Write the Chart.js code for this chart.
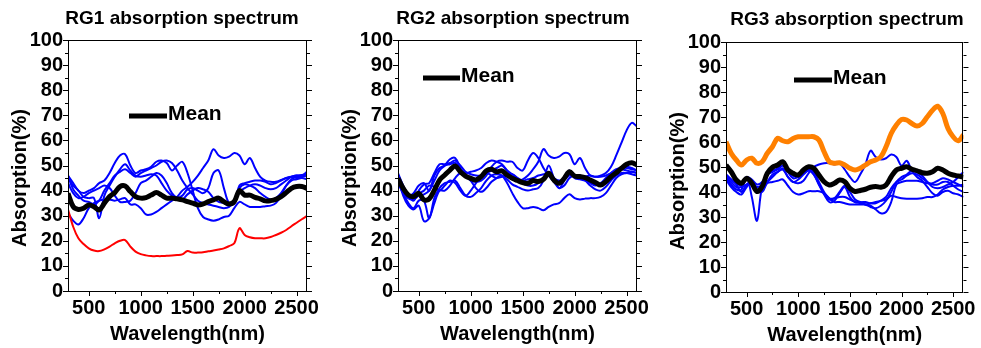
<!DOCTYPE html>
<html>
<head>
<meta charset="utf-8">
<script src="https://cdn.jsdelivr.net/npm/chart.js@4.4.1/dist/chart.umd.min.js"></script>
<style>
  html, body { margin: 0; padding: 0; background: #fff; }
  #wrap { position: relative; width: 981px; height: 348px; overflow: hidden; }
  .panel { position: absolute; top: 0; }
  .panel canvas { display: block; }
</style>
</head>
<body>
<div id="wrap">
  <div class="panel" style="left:0px"><canvas id="rg1" width="327" height="348"></canvas></div>
  <div class="panel" style="left:330px"><canvas id="rg2" width="327" height="348"></canvas></div>
  <div class="panel" style="left:655px"><canvas id="rg3" width="326" height="348"></canvas></div>
</div>
<script>
// wavelength samples (nm), shared by every curve
const wavelengths = [300, 350, 400, 450, 500, 550, 600, 650, 700, 750, 800, 850, 900, 950, 1000, 1050, 1100, 1150, 1200, 1250,
  1300, 1350, 1400, 1450, 1500, 1550, 1600, 1650, 1700, 1750, 1800, 1850, 1900, 1950, 2000, 2050, 2100, 2150, 2200, 2250,
  2300, 2350, 2400, 2450, 2500, 2550, 2600];

const xTicks = [500, 1000, 1500, 2000, 2500];

// RG1
const rg1Mean = [38.9, 33.6, 32.5, 33.0, 34.3, 33.6, 32.3, 35.0, 37.6, 39.2, 41.6, 41.8, 39.6, 37.6, 37.0, 37.2, 38.2, 39.2, 38.2, 37.0,
  37.0, 36.7, 36.3, 35.6, 35.0, 34.3, 34.7, 35.6, 36.3, 37.0, 35.6, 34.7, 35.6, 40.0, 38.2, 38.2, 37.3, 36.7, 35.9, 36.0,
  36.5, 37.6, 39.2, 40.9, 41.6, 41.6, 40.9];
const rg1Red = [32.5, 25.6, 21.0, 18.7, 17.0, 16.1, 15.9, 16.6, 17.7, 19.0, 20.0, 20.3, 17.7, 15.7, 14.7, 14.2, 13.9, 13.9, 13.9, 14.0,
  14.1, 14.3, 14.6, 15.9, 15.3, 15.3, 15.4, 15.8, 16.1, 16.5, 17.0, 17.9, 19.0, 25.0, 22.3, 21.4, 21.0, 21.0, 21.0, 21.5,
  22.3, 23.2, 24.3, 25.8, 27.2, 28.6, 29.9];
const rg1Blue1 = [46, 43, 40, 39, 40, 41, 43, 44, 47, 51, 54, 54.5, 50, 47, 48, 48.5, 49.5, 51.5, 52, 51,
  48, 50, 51.5, 47, 40, 33, 29.5, 28.5, 28, 28.5, 29.5, 30, 33, 35.5, 34.5, 33.5, 33.5, 33.5, 33.8, 34,
  35, 38, 42, 44.5, 45.5, 45.5, 46];
const rg1Blue2 = [31, 28, 26.5, 29, 33, 35, 36, 36.5, 36.5, 36, 36.5, 37, 34.5, 34.5, 33, 30.5, 30.5, 31.5, 33, 34.5,
  36, 37.5, 40, 41.5, 43.5, 46, 49, 52, 56.5, 54, 53, 53.5, 55, 54, 50.5, 53, 49, 45.5, 44, 43.5,
  43.5, 44.2, 45, 45.5, 46, 46.2, 46.5];
const rg1Blue3 = [45, 42, 40, 37.5, 37, 37, 29, 38, 42, 45.5, 48.5, 50.5, 48, 46, 45.5, 46, 46.5, 46, 43, 40,
  38, 37, 38, 40.5, 41, 40, 39, 41, 47, 48, 41, 35, 35.5, 42, 43, 43.5, 44, 44, 43.5, 42.5,
  43, 44, 45, 45.5, 45, 45.5, 47];
const rg1Blue4 = [46, 40.5, 38, 36, 35.5, 34.5, 36, 40, 43, 46, 47.5, 48.5, 47, 45.5, 47, 48, 49, 50, 51.5, 52,
  51, 48, 44, 41, 38.5, 36, 35, 34.5, 34, 33.5, 33, 33.5, 36, 41, 42.5, 42, 41, 39, 37.5, 36.5,
  37, 39, 42, 44, 44.5, 45, 44.5];
const rg1Blue5 = [43, 39, 37, 37.5, 39, 40, 41, 42, 41, 38, 35.5, 35.5, 36, 39, 43, 44, 45.5, 47, 46, 43,
  39, 37, 36.5, 38.5, 40, 41, 40.5, 39.5, 37, 35.5, 35, 34, 35, 39.5, 41, 42, 42.5, 42, 41, 40.5,
  41, 42.5, 44, 45.5, 46, 46, 47.5];

// RG2
const rg2Mean = [44.9, 40.9, 38.2, 37.6, 38.9, 36.3, 36.7, 40.2, 44.2, 46.2, 48.2, 49.8, 47.5, 45.8, 44.9, 44.2, 45.6, 47.9, 48.5, 47.5,
  47.9, 46.2, 44.9, 44.0, 43.2, 42.9, 44.0, 43.6, 44.5, 46.9, 44.2, 42.9, 44.9, 47.5, 45.8, 45.6, 45.2, 44.2, 43.2, 42.2,
  43.6, 45.6, 47.1, 48.9, 50.5, 51.1, 50.2];
const rg2Blue1 = [47, 42, 38, 36, 40, 42.5, 43, 47, 50.5, 50.5, 51, 52, 50, 47.5, 46.5, 46, 46, 47, 48, 49,
  50, 48, 46.5, 45, 44, 44.5, 45, 46, 46.5, 47, 45, 44, 44.5, 46, 45.5, 45, 45.5, 46, 45.5, 46,
  47, 49.5, 54, 59, 64, 67, 65.5];
const rg2Blue2 = [45, 40, 37, 36.5, 38, 38.5, 40, 44, 48, 50, 52.5, 53, 49, 46, 44, 43.5, 44, 46, 49.5, 51.5,
  52, 51.5, 51.5, 49, 48, 52, 55, 53, 49, 46, 43.5, 41, 42, 45, 46, 45.5, 44.5, 43.5, 42.5, 42,
  43, 45.5, 47.5, 49, 49.5, 49, 48];
const rg2Blue3 = [46, 41, 38, 39, 42, 43, 40, 46, 49, 50, 50.5, 51, 48.5, 47, 47.5, 48, 49, 51, 52, 51.5,
  50.5, 48, 45.5, 44, 44.5, 46, 48.5, 51.5, 56.5, 54, 53, 53.5, 55, 54.5, 50.5, 53, 49, 46, 45.5, 45.5,
  46, 47, 48, 48.5, 48, 47.5, 47];
const rg2Blue4 = [44, 39, 35, 33, 36, 36, 29, 37, 41, 43, 43.5, 44, 41, 38, 37.5, 39, 41, 44, 46, 46.5,
  46, 43, 39, 35.5, 33, 33, 33.5, 33, 32.2, 33.5, 34.5, 35, 37, 38.5, 37, 36.5, 36.8, 37, 37, 37.5,
  39, 42, 45, 46.5, 47, 47.5, 47];
const rg2Blue5 = [45, 38, 34, 32.5, 34, 27.8, 29, 35, 40, 40, 42, 45, 47, 46.5, 44, 41, 39.5, 41, 43.5, 45,
  46, 44.5, 42.5, 41.5, 40.5, 40, 40.5, 41, 44, 50, 45, 41, 44, 48, 46, 45, 44, 42, 40.5, 40,
  41.5, 44, 46, 47, 47, 46.5, 46];
const rg2Blue6 = [43, 39, 37, 38, 39, 40, 42, 41.5, 40, 42, 44, 43, 40, 38, 40, 43, 45.5, 47, 46, 45,
  45.5, 46, 46.5, 45, 43, 42, 42, 43, 45, 46, 44, 43, 45, 47, 45, 44.5, 44, 43, 42, 43,
  45, 47, 48.5, 49, 49, 48.5, 48];

// RG3
const rg3Mean = [50.8, 48.1, 44.8, 43.5, 45.5, 43.5, 40.2, 42.2, 47.5, 49.9, 50.8, 52.1, 48.8, 47.5, 46.8, 48.8, 50.1, 49.5, 46.8, 44.1,
  42.8, 43.5, 44.8, 44.1, 41.5, 40.2, 40.6, 41.1, 41.9, 42.2, 41.9, 42.8, 46.1, 48.8, 49.5, 50.1, 49.1, 48.5, 47.7, 47.5,
  48.1, 49.5, 48.8, 47.5, 46.8, 46.4, 45.9];
const rg3Orange = [60.1, 55.5, 52.8, 50.8, 52.8, 53.5, 51.5, 52.1, 55.5, 58.1, 61.5, 60.5, 60.1, 61.4, 62.1, 62.1, 62.1, 62.1, 60.8, 56.1,
  52.1, 51.5, 51.7, 50.8, 49.5, 48.8, 49.5, 50.8, 52.1, 52.8, 54.1, 58.1, 63.4, 66.8, 69.0, 68.8, 67.4, 66.4, 67.4, 70.1,
  72.7, 74.3, 71.4, 65.4, 62.1, 60.5, 62.8];
const rg3Blue1 = [47, 45, 43, 40, 43, 44, 41, 40, 44, 47, 48, 49, 46, 44, 43.5, 44.5, 47.5, 50, 51, 51.5,
  51.5, 51, 51.5, 49, 46, 44, 47, 51, 56.5, 54, 53, 53.5, 55, 54, 50.5, 52.5, 48.5, 46, 44.5, 42,
  39.5, 38.5, 40, 40.5, 39.5, 39, 38];
const rg3Blue2 = [46, 43, 41, 41, 46, 38, 28.5, 42, 44, 46, 48, 49.5, 46, 44, 45, 47, 48.5, 47, 43, 39,
  36, 36.5, 39.5, 42, 38, 36, 36, 35, 34.5, 33, 31.5, 32, 36, 43, 44, 44.5, 44.5, 44.5, 44, 43.5,
  43.5, 44.5, 45.5, 45, 44, 43, 42];
const rg3Blue3 = [45, 42, 40, 39, 42, 44, 40, 41, 43.5, 44, 44.5, 45, 42.5, 40, 39, 39.5, 40.3, 40.3, 40.3, 39.5,
  37.5, 36, 36, 35.5, 35, 35, 35, 35, 35.5, 36, 36.5, 37, 38.5, 38, 37.5, 37.3, 37.3, 37.3, 37.5, 38,
  38, 39, 41, 42, 42.5, 42.5, 43];
const rg3Blue4 = [46, 44, 42, 42, 43, 44, 42, 43, 47, 48.5, 49.5, 52, 48, 45.5, 46, 47.5, 49, 47, 43, 39.5,
  37, 37.5, 40, 42.5, 40, 37, 36, 36, 35.5, 35.5, 36.5, 38, 41.5, 44, 45, 46.5, 47.5, 47, 45.5, 44,
  43, 43, 44, 44, 42.5, 41, 40];
const rg3Blue5 = [47, 45, 43.5, 42.5, 46, 45, 43, 44, 47, 48, 49, 50.5, 48.5, 46.5, 46.5, 47.5, 49, 48, 44, 40,
  37.5, 37.5, 38, 38, 37, 36, 35.5, 35, 34, 33.5, 34.5, 36.5, 40, 44, 46, 47, 48.5, 48, 46.5, 44,
  42, 41.5, 42, 43, 44, 46, 48];

const xLabel = "Wavelength(nm)";
const yLabel = "Absorption(%)";
const FONT = '"Liberation Sans", Arial, Helvetica, sans-serif';

Chart.defaults.font.family = FONT;
Chart.defaults.color = "#000";
Chart.defaults.animation = false;

function toPoints(values) {
  return values.map((v, i) => ({ x: wavelengths[i], y: v }));
}

function line(label, values, color, width) {
  return {
    label: label,
    data: toPoints(values),
    borderColor: color,
    backgroundColor: color,
    borderWidth: width,
    pointRadius: 0,
    tension: 0.35,
    fill: false,
  };
}

// frame box plus major/minor tick marks
const frameTicks = {
  id: "frameTicks",
  afterDraw(chart) {
    const { ctx, chartArea: a, scales } = chart;
    const sx = scales.x, sy = scales.y;
    ctx.save();
    ctx.strokeStyle = "#000";
    ctx.lineWidth = 1;
    ctx.strokeRect(Math.round(a.left) + 0.5, Math.round(a.top) + 0.5, Math.round(a.right - a.left) - 1, Math.round(a.bottom - a.top));
    ctx.beginPath();
    for (let v = 0; v <= 100; v += 5) {
      const py = Math.round(sy.getPixelForValue(v)) + 0.5;
      const len = v % 10 === 0 ? 5 : 3;
      ctx.moveTo(a.left - len, py); ctx.lineTo(a.left, py);
      ctx.moveTo(a.right, py); ctx.lineTo(a.right + len, py);
    }
    for (let v = 500; v <= 2500; v += 250) {
      const px = Math.round(sx.getPixelForValue(v)) + 0.5;
      const len = v % 500 === 0 ? 5 : 3;
      ctx.moveTo(px, a.bottom); ctx.lineTo(px, a.bottom + len);
    }
    ctx.stroke();
    ctx.restore();
  },
};

// titles, axis names and the inline "Mean" legend
const panelText = {
  id: "panelText",
  afterDraw(chart, args, o) {
    const { ctx, chartArea: a } = chart;
    ctx.save();
    ctx.fillStyle = "#000";
    ctx.textAlign = "center";
    ctx.textBaseline = "middle";
    ctx.font = "bold 19px " + FONT;
    ctx.fillText(o.title, o.titleX, o.titleY);
    ctx.font = "bold 20px " + FONT;
    ctx.fillText(xLabel, (a.left + a.right) / 2, o.xLabelY);
    ctx.save();
    ctx.translate(o.yLabelX, o.yLabelY);
    ctx.rotate(-Math.PI / 2);
    ctx.fillText(yLabel, 0, 0);
    ctx.restore();
    // legend
    const mean = chart.data.datasets[0];
    ctx.strokeStyle = mean.borderColor;
    ctx.lineWidth = 5;
    ctx.beginPath();
    ctx.moveTo(o.legend[0], o.legend[2]);
    ctx.lineTo(o.legend[1], o.legend[2]);
    ctx.stroke();
    ctx.textAlign = "left";
    ctx.font = "bold 21px " + FONT;
    ctx.fillText(mean.label, o.legend[1] + 1, o.legend[2] - 1.5);
    ctx.restore();
  },
};

function makePanel(id, datasets, lay) {
  return new Chart(document.getElementById(id), {
    type: "line",
    data: { datasets: datasets },
    options: {
      responsive: false,
      layout: { padding: { top: lay.top, right: lay.right, left: 0, bottom: 0 } },
      plugins: {
        legend: { display: false },
        tooltip: { enabled: false },
        panelText: lay.text,
      },
      scales: {
        x: {
          type: "linear",
          min: 300,
          max: 2600,
          grid: { display: false, drawTicks: false },
          border: { display: false },
          afterBuildTicks: (s) => { s.ticks = xTicks.map((v) => ({ value: v })); },
          afterFit: (s) => { s.height = lay.bottom; },
          ticks: { font: { size: 20, weight: "bold" }, padding: 5, maxRotation: 0, autoSkip: false, callback: (v) => String(v) },
        },
        y: {
          min: 0,
          max: 100,
          grid: { display: false, drawTicks: false },
          border: { display: false },
          afterFit: (s) => { s.width = lay.left; },
          ticks: { stepSize: 10, font: { size: 20, weight: "bold" }, padding: 5, autoSkip: false },
        },
      },
    },
    plugins: [frameTicks, panelText],
  });
}

const BLUE = "#0000ff";

makePanel("rg1", [
  line("Mean", rg1Mean, "#000000", 5),
  line("RG1 red", rg1Red, "#ff0000", 2),
  line("RG1-1", rg1Blue1, BLUE, 2),
  line("RG1-2", rg1Blue2, BLUE, 2),
  line("RG1-3", rg1Blue3, BLUE, 2),
  line("RG1-4", rg1Blue4, BLUE, 2),
  line("RG1-5", rg1Blue5, BLUE, 2),
], { top: 40, right: 20, left: 68, bottom: 57,
  text: { title: "RG1 absorption spectrum", titleX: 182, titleY: 18.5, xLabelY: 334.5, yLabelX: 20, yLabelY: 178, legend: [129, 167, 116] } });

makePanel("rg2", [
  line("Mean", rg2Mean, "#000000", 5),
  line("RG2-1", rg2Blue1, BLUE, 2),
  line("RG2-2", rg2Blue2, BLUE, 2),
  line("RG2-3", rg2Blue3, BLUE, 2),
  line("RG2-4", rg2Blue4, BLUE, 2),
  line("RG2-5", rg2Blue5, BLUE, 2),
  line("RG2-6", rg2Blue6, BLUE, 2),
], { top: 40, right: 20, left: 68, bottom: 57,
  text: { title: "RG2 absorption spectrum", titleX: 183, titleY: 18.5, xLabelY: 334.5, yLabelX: 20, yLabelY: 178, legend: [93, 130, 78] } });

makePanel("rg3", [
  line("Mean", rg3Mean, "#000000", 5),
  line("RG3 orange", rg3Orange, "#ff8000", 5),
  line("RG3-1", rg3Blue1, BLUE, 2),
  line("RG3-2", rg3Blue2, BLUE, 2),
  line("RG3-3", rg3Blue3, BLUE, 2),
  line("RG3-4", rg3Blue4, BLUE, 2),
  line("RG3-5", rg3Blue5, BLUE, 2),
], { top: 42, right: 14, left: 71, bottom: 56,
  text: { title: "RG3 absorption spectrum", titleX: 192, titleY: 20, xLabelY: 335, yLabelX: 23.5, yLabelY: 181, legend: [139, 177, 80] } });
</script>
</body>
</html>
